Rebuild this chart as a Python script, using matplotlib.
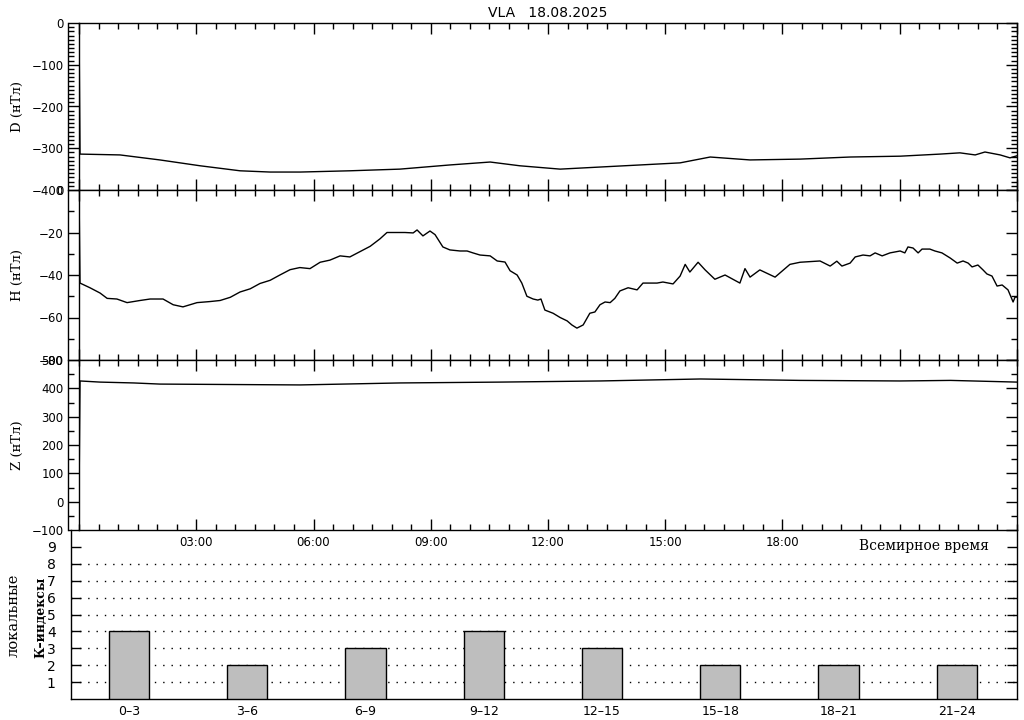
import matplotlib.pyplot as plt
from matplotlib.ticker import MultipleLocator
from matplotlib.lines import Line2D

# ---- data (hours UT) ----
d_hours = [0.0, 0.026, 1.05, 2.07, 3.10, 4.12, 4.89, 5.66, 6.93, 8.21, 9.49, 10.52,
           11.28, 12.31, 13.33, 14.36, 15.38, 16.15, 17.17, 18.45, 19.73, 21.01,
           22.03, 22.54, 22.93, 23.18, 23.57, 23.82, 24.0]
d_values = [0, -314, -316, -328, -342, -354, -357, -357, -354, -350, -340, -333,
            -342, -350, -345, -340, -335, -321, -328, -326, -321, -319,
            -314, -311, -316, -309, -316, -323, -318]

h_hours = [0.0, 0.026, 0.28, 0.54, 0.72, 0.97, 1.23, 1.56, 1.82, 2.15, 2.41, 2.66,
           3.02, 3.35, 3.61, 3.87, 4.12, 4.38, 4.63, 4.89, 5.14, 5.40, 5.65, 5.91,
           6.17, 6.42, 6.68, 6.93, 7.19, 7.45, 7.70, 7.88, 8.14,
           8.34, 8.55, 8.65, 8.80, 8.98, 9.11, 9.31, 9.49, 9.75, 9.93, 10.08, 10.26,
           10.52, 10.70, 10.90, 11.03, 11.21, 11.33, 11.46, 11.62, 11.74, 11.82,
           11.92, 12.13, 12.31, 12.49, 12.61, 12.74, 12.90, 13.07, 13.20, 13.33,
           13.46, 13.59, 13.71, 13.84, 14.05, 14.28, 14.43, 14.79, 14.94, 15.20,
           15.38, 15.51, 15.63, 15.84, 16.02, 16.27, 16.53, 16.91, 17.04, 17.17,
           17.42, 17.81, 18.19, 18.45, 18.96, 19.22, 19.39, 19.52, 19.73, 19.86,
           20.06, 20.24, 20.37, 20.55, 20.75, 21.01, 21.13, 21.21, 21.34, 21.47,
           21.57, 21.77, 21.90, 22.08, 22.29, 22.47, 22.62, 22.75, 22.85, 23.00,
           23.13, 23.23, 23.36, 23.49, 23.62, 23.77, 23.90, 23.95, 24.0]
h_values = [0, -43.8, -46, -48.5, -51, -51.3, -53, -52, -51.3, -51.3, -54, -55,
            -53, -52.5, -52, -50.5, -48, -46.5, -44, -42.5, -40, -37.5, -36.5, -37,
            -34, -33, -31, -31.5, -29, -26.5, -23, -20, -20,
            -20, -20.2, -18.8, -21.6, -19.3, -21, -26.8, -28.2, -28.7, -28.7, -29.6, -30.6,
            -31, -33.4, -33.9, -38, -40, -43.8, -50, -51.3, -51.8, -51.3,
            -56.5, -58, -60, -61.6, -63.5, -65, -63.5, -58, -57.4, -54,
            -52.7, -53, -51, -47.5, -46, -47, -43.8, -43.8, -43.3, -44.2,
            -40.5, -35, -38.6, -34, -37.6, -42, -40, -43.8, -37, -41,
            -37.6, -41, -35, -34, -33.4, -35.8, -33.5, -35.8, -34.4, -31.5,
            -30.6, -31, -29.6, -31, -29.6, -28.7, -29.6, -26.8, -27.3, -29.6,
            -27.8, -27.8, -28.7, -29.6, -32, -34.4, -33.4, -34.4, -36.2, -35.3,
            -37.6, -39.5, -40.5, -45.2, -44.7, -47, -52.7, -50.4, -50.4]

z_hours = [0.0, 0.026, 0.54, 1.4, 2.07, 5.66, 8.21, 10.77, 13.33, 15.9, 18.45, 21.0, 22.3, 24.0]
z_values = [0, 426, 422, 419, 415, 412, 419, 422, 426, 433, 428, 426, 428, 422]

k_labels = ['0–3', '3–6', '6–9', '9–12', '12–15', '15–18', '18–21', '21–24']
k_values = [4, 2, 3, 4, 3, 2, 2, 2]

time_ticks = [3, 6, 9, 12, 15, 18]
time_labels = ['03:00', '06:00', '09:00', '12:00', '15:00', '18:00']

W, H = 1024, 720
tick_font = 'DejaVu Sans'
label_font = 'DejaVu Serif'


def px_box(x0, y0, x1, y1):
    return [x0 / W, 1 - y1 / H, (x1 - x0) / W, (y1 - y0) / H]


def field_panel(fig, box, hours, values, ylim, major, minor):
    ax = fig.add_axes(box)
    ax.plot(hours, values, color='black', lw=1.0)
    ax.set_xlim(0, 24)
    ax.set_ylim(*ylim)
    ax.set_yticks(range(ylim[0], ylim[1] + 1, major))
    ax.yaxis.set_minor_locator(MultipleLocator(minor))
    ax.xaxis.set_major_locator(MultipleLocator(3))
    ax.xaxis.set_minor_locator(MultipleLocator(0.5))
    ax.spines['left'].set_position(('outward', 8))
    for s in ax.spines.values():
        s.set_linewidth(1.0)
    ax.tick_params(which='both', direction='in', top=True, right=True,
                   labelbottom=False, width=1.0)
    ax.tick_params(which='major', length=8, pad=3, labelsize=8.5)
    ax.tick_params(which='minor', length=4)
    for t in ax.get_yticklabels():
        t.set_fontfamily(tick_font)
    # frame line at the data edge
    ax.add_line(Line2D([0, 0], [0, 1], transform=ax.transAxes, color='black',
                       lw=1.0, clip_on=False))
    return ax


fig = plt.figure(figsize=(W / 100, H / 100), dpi=100)

ax1 = field_panel(fig, px_box(79, 23, 1017, 190), d_hours, d_values, (-400, 0), 100, 10)
ax1.set_title('VLA   18.08.2025', fontfamily=tick_font, fontsize=10, pad=4)

ax2 = field_panel(fig, px_box(79, 190, 1017, 360), h_hours, h_values, (-80, 0), 20, 10)

ax3 = field_panel(fig, px_box(79, 360, 1017, 530), z_hours, z_values, (-100, 500), 100, 50)
ax3.set_xticks(time_ticks)
ax3.set_xticklabels(time_labels, fontfamily=tick_font, fontsize=8.5)
ax3.tick_params(axis='x', labelbottom=True, pad=4)
ax3.set_zorder(2)

for ylab, yc in [('D (нТл)', 106), ('H (нТл)', 275), ('Z (нТл)', 445)]:
    fig.text(17 / W, 1 - yc / H, ylab, rotation=90, ha='center', va='center',
             fontfamily=label_font, fontsize=9.5)

# clipped label at the very left edge of the figure
fig.text(-5 / W, 1 - 105 / H, 'Компоненты', rotation=90, ha='center', va='center',
         fontfamily=label_font, fontsize=10)

# ---- K indices ----
ax4 = fig.add_axes(px_box(71, 530, 1017, 699))
ax4.patch.set_visible(False)
pos = list(range(len(k_values)))
ax4.bar(pos, k_values, width=0.34, color='#bebebe', edgecolor='black',
        linewidth=1.0, zorder=3)
for lev in range(1, 9):
    ax4.axhline(lev, color='black', lw=1.0, ls=(0, (1, 5)), zorder=1)
ax4.set_xlim(-0.49, 7.51)
ax4.set_ylim(0, 10)
ax4.set_yticks(range(1, 10))
ax4.set_xticks(pos)
ax4.set_xticklabels(k_labels, fontfamily=tick_font, fontsize=9)
for t in ax4.get_yticklabels():
    t.set_fontfamily(tick_font)
ax4.spines['top'].set_visible(False)
for s in ax4.spines.values():
    s.set_linewidth(1.0)
ax4.tick_params(axis='y', direction='in', right=True, length=7, width=1.0,
                pad=11, labelsize=10)
ax4.tick_params(axis='x', length=0, pad=4)

fig.text(14 / W, 1 - 615 / H, 'локальные', rotation=90, ha='center', va='center',
         fontfamily=label_font, fontsize=10.5)
fig.text(41 / W, 1 - 617 / H, 'К–индексы', rotation=90, ha='center', va='center',
         fontfamily=label_font, fontsize=9, fontweight='bold')
fig.text(924 / W, 1 - 546 / H, 'Всемирное время', ha='center', va='center',
         fontfamily=label_font, fontsize=10)

fig.savefig('out.png', dpi=100)
